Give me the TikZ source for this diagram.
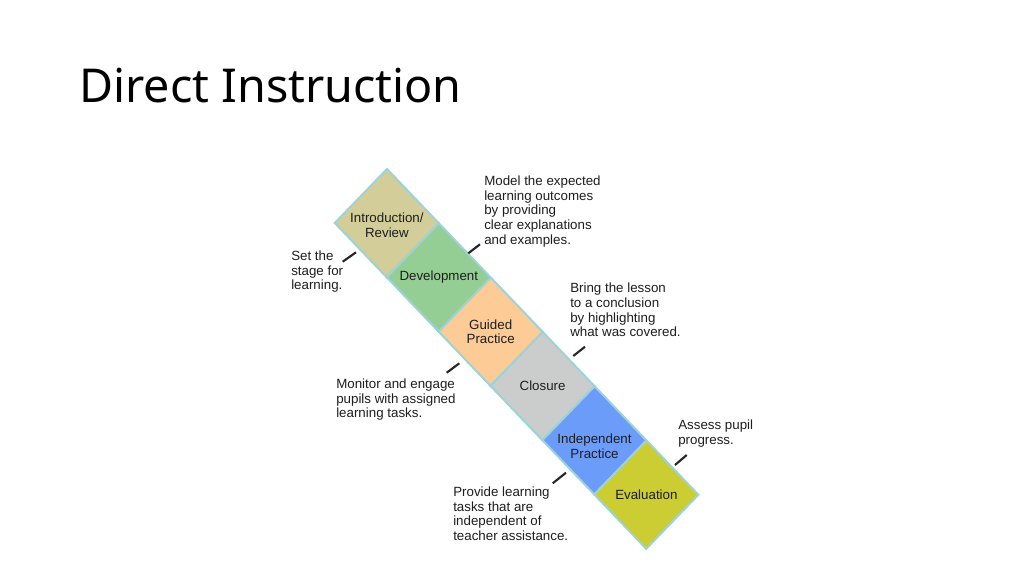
\documentclass[tikz,border=0pt]{standalone}
\usepackage{fontspec}
\setmainfont{Liberation Sans}
\newfontfamily\titlefont{Noto Sans}
\definecolor{cIntro}{HTML}{D3CD99}
\definecolor{cDev}{HTML}{95CE95}
\definecolor{cGuided}{HTML}{FDCB95}
\definecolor{cClosure}{HTML}{CBCDCD}
\definecolor{cIndep}{HTML}{6B9CFA}
\definecolor{cEval}{HTML}{CCCC33}
\definecolor{cBorder}{HTML}{9DD3D6}
\definecolor{cText}{HTML}{1E1E1E}
\begin{document}
\begin{tikzpicture}[x=0.75pt,y=-0.75pt,
  cellbox/.style={draw=cBorder, line width=1.5pt, line join=miter},
  celltext/.style={align=center, inner sep=0pt, text=cText, font=\fontsize{10}{11}\selectfont},
  notetext/.style={align=left, anchor=north west, inner sep=0pt, text=cText, font=\fontsize{10}{11}\selectfont},
  tickline/.style={draw=black!85, line width=1.6pt}]
\useasboundingbox (0,0) rectangle (1024,575);
\fill[white] (0,0) rectangle (1024,575);
% title
\node[anchor=base west, inner sep=0pt, font=\titlefont\fontsize{35}{42}\selectfont] (title) at (79,102) {Direct Instruction};
% cells
\foreach \i/\c in {0/cIntro,1/cDev,2/cGuided,3/cClosure,4/cIndep,5/cEval}{
  \filldraw[cellbox, fill=\c]
    ({387+51.9*\i},{169+54.3*\i}) -- ({387+51.9*(\i+1)},{169+54.3*(\i+1)})
    -- ({334.8+51.9*(\i+1)},{223+54.3*(\i+1)}) -- ({334.8+51.9*\i},{223+54.3*\i}) -- cycle;
}
\node[celltext] (intro) at (386.9,225.5) {Introduction/\\Review};
\node[celltext] (dev) at (438.8,277.5) {Development};
\node[celltext] (guided) at (490.7,331.8) {Guided\\Practice};
\node[celltext] (closure) at (542.6,386.1) {Closure};
\node[celltext] (indep) at (594.5,446.4) {Independent\\Practice};
\node[celltext] (eval) at (646.4,494.7) {Evaluation};
% notes
\node[notetext] (set) at (291,250.5) {Set the\\stage for\\learning.};
\node[notetext] (model) at (484,175.5) {Model the expected\\learning outcomes\\by providing\\clear explanations\\and examples.};
\node[notetext] (bring) at (570,282.8) {Bring the lesson\\to a conclusion\\by highlighting\\what was covered.};
\node[notetext] (monitor) at (336,378.5) {Monitor and engage\\pupils with assigned\\learning tasks.};
\node[notetext] (assess) at (678,419.5) {Assess pupil\\progress.};
\node[notetext] (provide) at (453,486.5) {Provide learning\\tasks that are\\independent of\\teacher assistance.};
% ticks
\coordinate (t1a) at (342.7,261.7); \coordinate (t1b) at (356,252.3);
\coordinate (t2a) at (468.3,253.3); \coordinate (t2b) at (480,244.3);
\coordinate (t3a) at (446.7,372.7); \coordinate (t3b) at (459.3,363.3);
\coordinate (t4a) at (573.3,356);   \coordinate (t4b) at (585,346.7);
\coordinate (t5a) at (552.7,483.3); \coordinate (t5b) at (566,472.7);
\coordinate (t6a) at (675,465);     \coordinate (t6b) at (686.7,455);
\foreach \k in {1,...,6}{\draw[tickline] (t\k a) -- (t\k b);}
\end{tikzpicture}
\end{document}
